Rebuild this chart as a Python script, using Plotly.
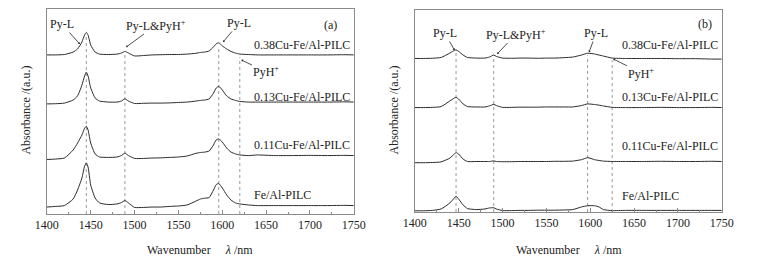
import plotly.graph_objects as go

# ---------------- data ----------------
# Panel (a) wavenumber grid (cm-1)
wn_a = [1400, 1410, 1420, 1430, 1435, 1440, 1443, 1445, 1447, 1450,
        1455, 1460, 1470, 1480, 1485, 1489, 1493, 1500, 1510, 1520,
        1530, 1540, 1550, 1560, 1570, 1575, 1580, 1585, 1590, 1593,
        1596, 1600, 1605, 1610, 1615, 1620, 1630, 1640, 1660, 1680,
        1700, 1720, 1740, 1750]
a_038 = [77.6, 77.6, 77.8, 79.0, 80.5, 83.9, 87.3, 88.6, 87.3, 82.4,
         79.0, 78.0, 77.8, 78.0, 78.5, 79.3, 78.5, 77.1, 77.3, 77.6,
         77.7, 77.8, 77.8, 78.0, 78.4, 78.8, 79.0, 79.5, 81.5, 83.0,
         83.5, 82.0, 80.5, 79.3, 78.5, 78.0, 77.8, 77.6, 77.6, 77.6,
         77.6, 77.6, 77.7, 77.6]
a_013 = [53.7, 53.8, 54.1, 55.6, 57.6, 62.9, 67.3, 69.2, 67.3, 61.5,
         56.6, 55.1, 54.6, 54.6, 55.1, 56.2, 55.1, 53.9, 54.0, 54.1,
         54.1, 54.2, 54.4, 54.6, 55.1, 55.4, 55.6, 56.1, 59.0, 61.4,
         62.3, 60.5, 57.6, 56.1, 55.4, 54.9, 54.6, 54.6, 54.6, 54.6,
         54.6, 54.6, 54.7, 54.6]
a_011 = [26.6, 26.8, 27.3, 31.2, 34.6, 38.5, 41.8, 42.8, 41.0, 34.6,
         29.3, 27.8, 27.6, 27.8, 28.5, 29.7, 28.5, 27.1, 27.1, 27.3,
         27.4, 27.6, 27.8, 28.3, 29.6, 30.0, 30.2, 30.7, 33.7, 36.1,
         36.6, 35.1, 32.2, 30.2, 29.3, 28.8, 28.5, 28.8, 28.5, 28.5,
         28.6, 28.5, 28.6, 28.5]
a_fe = [3.4, 3.7, 4.1, 7.3, 11.7, 17.6, 23.3, 25.0, 22.9, 14.1,
        7.8, 5.4, 4.6, 4.9, 5.6, 6.6, 5.4, 3.2, 3.2, 3.4,
        3.4, 3.7, 3.9, 4.4, 6.3, 7.3, 7.7, 8.0, 11.7, 14.3,
        14.9, 12.7, 9.3, 6.8, 5.4, 4.9, 4.4, 4.1, 4.1, 4.1,
        4.1, 4.1, 4.2, 4.1]

# Panel (b) wavenumber grid (cm-1)
wn_b = [1400, 1410, 1420, 1430, 1440, 1445, 1447, 1450, 1455, 1460,
        1470, 1480, 1485, 1490, 1493, 1500, 1510, 1520, 1530, 1540,
        1550, 1560, 1570, 1580, 1590, 1597, 1605, 1610, 1615, 1625,
        1640, 1660, 1680, 1700, 1720, 1740, 1750]
b_038 = [76.0, 76.0, 76.1, 76.5, 78.7, 80.0, 80.2, 79.5, 77.7, 76.5,
         76.2, 76.2, 76.7, 77.7, 77.0, 76.2, 76.1, 76.2, 76.2, 76.1,
         76.2, 76.2, 76.4, 76.7, 77.7, 78.6, 78.2, 77.7, 77.2, 76.2,
         76.0, 76.0, 76.0, 75.9, 75.9, 75.7, 75.7]
b_013 = [51.7, 51.7, 51.8, 52.2, 55.0, 56.4, 56.8, 55.9, 53.5, 52.2,
         52.0, 52.0, 52.5, 53.3, 52.7, 51.8, 51.8, 51.9, 51.9, 51.9,
         52.0, 52.0, 52.0, 52.0, 52.7, 53.5, 53.2, 52.9, 52.5, 51.8,
         51.7, 51.7, 51.8, 51.7, 51.7, 51.8, 51.7]
b_011 = [24.4, 24.4, 24.5, 24.8, 26.7, 28.7, 29.4, 28.7, 26.2, 25.0,
         25.0, 25.0, 25.0, 25.3, 25.0, 24.9, 24.9, 25.0, 25.0, 25.0,
         25.0, 25.1, 25.1, 25.2, 25.9, 26.9, 25.9, 25.5, 25.2, 25.0,
         25.0, 25.0, 25.1, 25.0, 25.0, 25.1, 25.0]
b_fe = [0.6, 0.6, 0.8, 1.5, 4.5, 6.9, 7.9, 6.4, 3.5, 1.7,
        1.2, 1.5, 2.0, 2.1, 1.5, 0.7, 0.7, 0.8, 0.8, 0.9,
        0.9, 0.9, 1.0, 1.2, 2.5, 3.1, 3.1, 2.5, 1.2, 0.7,
        0.8, 0.8, 0.8, 0.8, 0.8, 0.8, 0.8]

sample_names = ["0.38Cu-Fe/Al-PILC", "0.13Cu-Fe/Al-PILC",
                "0.11Cu-Fe/Al-PILC", "Fe/Al-PILC"]
marker_a = [1445, 1489, 1596, 1620]   # dashed guide lines, panel (a)
marker_b = [1447, 1490, 1597, 1625]   # dashed guide lines, panel (b)
peak_labels = ["Py-L", "Py-L&PyH<sup>+</sup>", "Py-L", "PyH<sup>+</sup>"]
xticks = [1400, 1450, 1500, 1550, 1600, 1650, 1700, 1750]

# ---------------- figure ----------------
W, H = 758, 262
def px(x):
    return x / W
def py(y):
    return 1 - y / H

FONT = "Liberation Serif, Times New Roman, serif"
LINE = "#2a2a2a"
FRAME = "#8a8a8a"

fig = go.Figure()
series_a = [a_038, a_013, a_011, a_fe]
series_b = [b_038, b_013, b_011, b_fe]
for name, ys in zip(sample_names, series_a):
    fig.add_trace(go.Scatter(x=wn_a, y=ys, mode="lines", name=name,
                             line=dict(color=LINE, width=1, shape="spline", smoothing=0.5),
                             xaxis="x", yaxis="y", showlegend=False))
for name, ys in zip(sample_names, series_b):
    fig.add_trace(go.Scatter(x=wn_b, y=ys, mode="lines", name=name,
                             line=dict(color=LINE, width=1, shape="spline", smoothing=0.5),
                             xaxis="x2", yaxis="y2", showlegend=False))

# dashed guide lines from the axis up to the top spectrum
shapes = []
for m in marker_a:
    top = a_038[wn_a.index(m)]
    shapes.append(dict(type="line", xref="x", yref="y", x0=m, x1=m, y0=0, y1=top - 1.5,
                       line=dict(color="#999", width=1, dash="dot"), layer="below"))
for m in marker_b:
    top = b_038[wn_b.index(m)]
    shapes.append(dict(type="line", xref="x2", yref="y2", x0=m, x1=m, y0=0, y1=top - 1.0,
                       line=dict(color="#999", width=1, dash="dot"), layer="below"))

axis_common = dict(range=[1400, 1750], tickvals=xticks, ticks="inside", ticklen=4,
                   tickcolor=FRAME, showline=True, linecolor=FRAME, linewidth=1,
                   mirror=True, showgrid=False, zeroline=False, ticklabelstandoff=0,
                   tickfont=dict(family=FONT, size=12, color="#222"),
                   minor=dict(dtick=25, tick0=1400, ticks="inside", ticklen=2, tickcolor=FRAME))
yaxis_common = dict(range=[0, 100], showticklabels=False, ticks="", showline=True,
                    linecolor=FRAME, linewidth=1, mirror=True, showgrid=False, zeroline=False)

fig.update_layout(
    width=W, height=H, margin=dict(l=0, r=0, t=0, b=0),
    paper_bgcolor="white", plot_bgcolor="white",
    xaxis=dict(domain=[px(36), px(353)], anchor="y", **axis_common),
    yaxis=dict(domain=[py(214), py(9)], anchor="x", **yaxis_common),
    xaxis2=dict(domain=[px(416), px(733)], anchor="y2", **axis_common),
    yaxis2=dict(domain=[py(212), py(10)], anchor="x2", **yaxis_common),
    shapes=shapes,
)

ann = []
def text(x, y, s, xanchor="center", size=12, angle=0):
    ann.append(dict(x=px(x), y=py(y), xref="paper", yref="paper", text=s,
                    showarrow=False, xanchor=xanchor, yanchor="middle", textangle=angle,
                    font=dict(family=FONT, size=size, color="#222")))
def label_arrow(cx, cy, hx, hy, s):
    # text centred at (cx, cy); arrow from the text box edge to the head (hx, hy)
    ann.append(dict(x=px(hx), y=py(hy), xref="paper", yref="paper", text=s,
                    showarrow=True, ax=cx - hx, ay=cy - hy, axref="pixel", ayref="pixel",
                    arrowhead=1, arrowsize=0.6, arrowwidth=0.8, arrowcolor="#222",
                    standoff=0, startstandoff=0,
                    font=dict(family=FONT, size=12, color="#222")))

# panel (a)
label_arrow(52, 24, 70, 44, peak_labels[0])
label_arrow(148, 25, 118, 47, peak_labels[1])
label_arrow(234, 23, 218, 42, peak_labels[2])
label_arrow(262, 72, 237, 60, peak_labels[3])
text(329, 25, "(a)")
for name, yy in zip(sample_names, [45, 97, 145, 195]):
    text(248, yy, name, xanchor="left")
text(194, 250, "Wavenumber\u00a0\u00a0\u00a0\u00a0\u00a0<i>λ</i> /nm")
text(14, 110, "Absorbance /(a.u.)", angle=-90)

# panel (b)
label_arrow(447, 33, 457, 50, peak_labels[0])
label_arrow(520, 34, 501, 54, peak_labels[1])
label_arrow(603, 33, 596, 52, peak_labels[2])
label_arrow(649, 73, 621, 59, peak_labels[3])
text(716, 24, "(b)")
for name, yy in zip(sample_names, [45, 97, 146, 196]):
    text(628, yy, name, xanchor="left")
text(575, 250, "Wavenumber\u00a0\u00a0\u00a0\u00a0\u00a0<i>λ</i> /nm")
text(395, 110, "Absorbance /(a.u.)", angle=-90)

fig.update_layout(annotations=ann)
fig.write_html("out.html", config={"displayModeBar": False},
               post_script="document.body.style.margin='0';")
